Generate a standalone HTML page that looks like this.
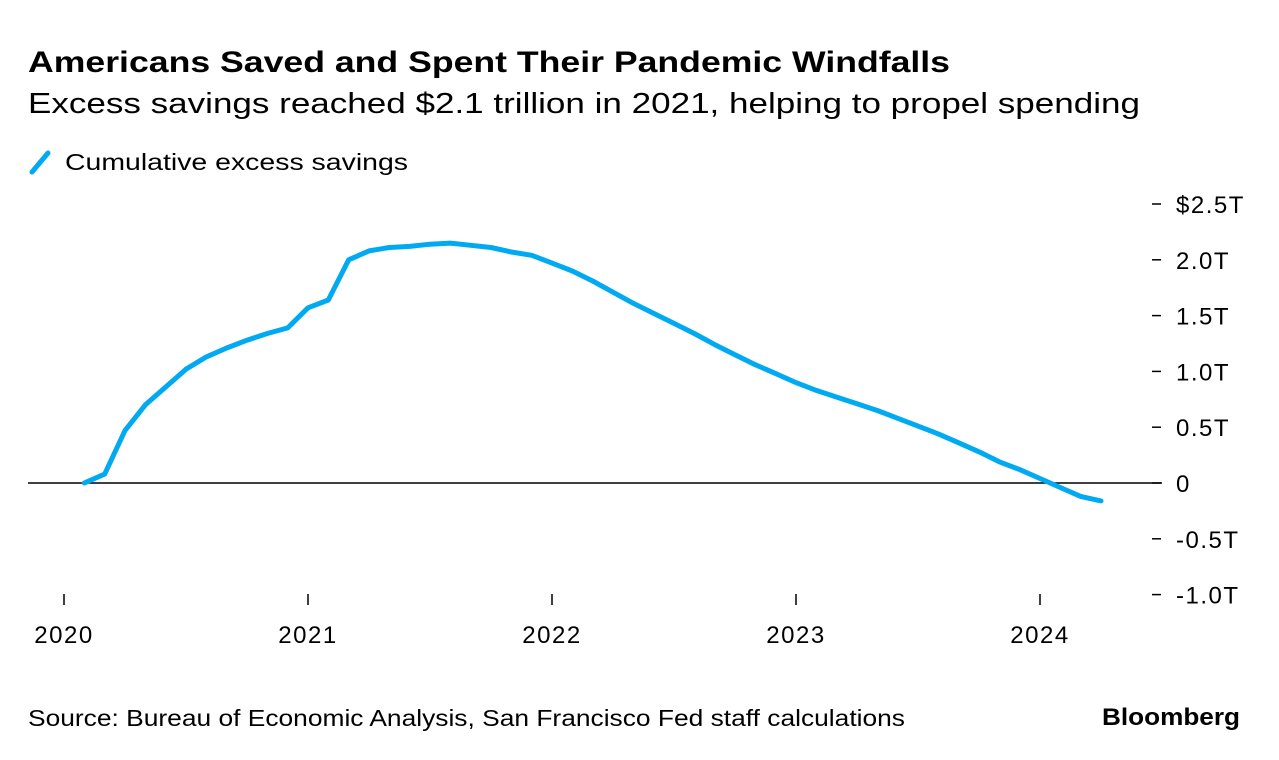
<!DOCTYPE html>
<html><head><meta charset="utf-8"><style>
body{margin:0;background:#fff;width:1279px;height:760px;overflow:hidden;font-family:"Liberation Sans",sans-serif;color:#000}
</style></head><body>
<svg width="1279" height="760" style="position:absolute;left:0;top:0">
<text x="28" y="72" font-size="30" font-weight="bold" textLength="922" lengthAdjust="spacingAndGlyphs">Americans Saved and Spent Their Pandemic Windfalls</text>
<text x="28" y="113" font-size="29" textLength="1112" lengthAdjust="spacingAndGlyphs">Excess savings reached $2.1 trillion in 2021, helping to propel spending</text>
<g>
<line x1="32" y1="172" x2="48" y2="153" stroke="#00aaf2" stroke-width="5" stroke-linecap="round"/>
<text x="65" y="170" font-size="23" textLength="343" lengthAdjust="spacingAndGlyphs">Cumulative excess savings</text>
</g>
<g id="yaxis"></g>
<g id="xaxis"></g>
<line x1="28" y1="483" x2="1162" y2="483" stroke="#000" stroke-width="1.5"/>
<path id="line" fill="none" stroke="#00aaf2" stroke-width="5" stroke-linejoin="round" stroke-linecap="round"/>
<text x="28" y="726" font-size="23" textLength="877" lengthAdjust="spacingAndGlyphs">Source: Bureau of Economic Analysis, San Francisco Fed staff calculations</text>
<text x="1240" y="725" font-size="24" font-weight="bold" text-anchor="end" textLength="138" lengthAdjust="spacingAndGlyphs">Bloomberg</text>
</svg>
<script>
const yTicks=[2.5,2.0,1.5,1.0,0.5,0,-0.5,-1.0];
const yLabels=["$2.5T","2.0T","1.5T","1.0T","0.5T","0","-0.5T","-1.0T"];
const xYears=[2020,2021,2022,2023,2024];
const startYear=2020, startMonth=1;
const values=[0,0.08,0.47,0.70,0.86,1.02,1.13,1.21,1.28,1.34,1.39,1.57,1.64,2.0,2.08,2.11,2.12,2.14,2.15,2.13,2.11,2.07,2.04,1.97,1.90,1.81,1.71,1.61,1.52,1.43,1.34,1.24,1.15,1.06,0.98,0.90,0.83,0.77,0.71,0.65,0.58,0.51,0.44,0.36,0.28,0.19,0.12,0.04,-0.04,-0.12,-0.16];
const NS="http://www.w3.org/2000/svg";
const yS=v=>483-v*111.6;
const xS=t=>64+(t-2020)*244;
const ya=document.getElementById('yaxis');
yTicks.forEach((v,i)=>{
 const l=document.createElementNS(NS,'line');
 l.setAttribute('x1',1152);l.setAttribute('x2',1161);l.setAttribute('y1',yS(v));l.setAttribute('y2',yS(v));
 l.setAttribute('stroke','#000');l.setAttribute('stroke-width','1.5');
 
 
 ya.appendChild(l);
 const t=document.createElementNS(NS,'text');
 t.setAttribute('x',1176);t.setAttribute('y',yS(v)+9);t.setAttribute('font-size','24');t.setAttribute('letter-spacing','1.5');
 t.textContent=yLabels[i];
 
 
 ya.appendChild(t);
});
const xa=document.getElementById('xaxis');
xYears.forEach(y=>{
 const l=document.createElementNS(NS,'line');
 l.setAttribute('x1',xS(y));l.setAttribute('x2',xS(y));l.setAttribute('y1',594);l.setAttribute('y2',605);
 l.setAttribute('stroke','#000');l.setAttribute('stroke-width','1.5');
 
 
 xa.appendChild(l);
 const t=document.createElementNS(NS,'text');
 t.setAttribute('x',xS(y));t.setAttribute('y',643);t.setAttribute('font-size','24');t.setAttribute('text-anchor','middle');t.setAttribute('letter-spacing','1.5');
 t.textContent=y;
 
 
 xa.appendChild(t);
});
const d=values.map((v,i)=>(i?'L':'M')+xS(startYear+(startMonth+i)/12).toFixed(1)+','+yS(v).toFixed(1)).join(' ');
document.getElementById('line').setAttribute('d',d);
</script>
</body></html>
